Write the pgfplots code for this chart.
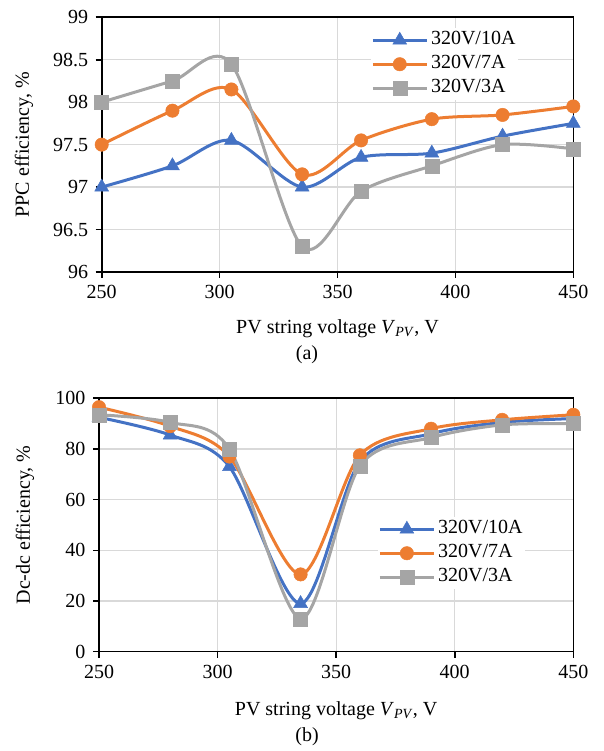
\documentclass[border=0pt]{standalone}
\usepackage{fontspec}
\setmainfont{Liberation Serif}
\usepackage{pgfplots}
\pgfplotsset{compat=1.18}
\definecolor{cblue}{HTML}{4472C4}
\definecolor{corange}{HTML}{ED7D31}
\definecolor{cgray}{HTML}{A5A5A5}
\definecolor{cgrid}{HTML}{D9D9D9}
\newcommand{\ff}{\fontsize{20}{24}\selectfont}
\pgfplotsset{
  common/.style={
    scale only axis,
    anchor=south west,
    axis line style={black, line width=1.6pt},
    grid=major,
    grid style={cgrid, line width=1.3pt},
    tick align=outside,
    xtick pos=bottom, ytick pos=left,
    major tick length=6pt,
    tick style={black, line width=1.6pt},
    /pgf/number format/assume math mode=true,
    tick label style={font=\ff},
    xmin=250, xmax=450, xtick={250,300,...,450},
    xticklabel style={anchor=north, yshift=-4pt},
    yticklabel style={anchor=east, xshift=-4pt},
    clip=false,
    legend cell align=left,
    legend style={draw=none, fill=white, font=\ff, inner sep=0pt, outer sep=0pt,
      nodes={inner sep=2.75pt, text height=14pt, text depth=4.5pt}},
    legend image code/.code={\draw[mark repeat=2, mark phase=2] plot coordinates {(0pt,0pt) (27pt,0pt) (54pt,0pt)};},
    xlabel={PV string voltage \textit{V}\textsubscript{\textit{PV}}, V},
  },
  sblue/.style={cblue, line width=3pt, smooth, mark=triangle*, mark size=8pt, mark options={solid, fill=cblue, draw=cblue, line width=0.5pt}},
  sorange/.style={corange, line width=3pt, smooth, mark=*, mark size=6.7pt, mark options={solid, fill=corange, draw=corange, line width=0.5pt}},
  sgray/.style={cgray, line width=3pt, smooth, mark=square*, mark size=7pt, mark options={solid, fill=cgray, draw=cgray, line width=0.5pt}},
}
\begin{document}
\begin{tikzpicture}
\useasboundingbox (0,0) rectangle (603pt,751pt);
\begin{axis}[common,
  at={(101.7pt,479pt)}, width=471.6pt, height=254.7pt,
  ymin=96, ymax=99, ytick={96,96.5,...,99},
  ylabel={PPC efficiency, \%},
  every axis y label/.style={at={(axis description cs:-0.1648,0.5)}, rotate=90, anchor=center, font=\ff},
  every axis x label/.style={at={(axis description cs:0.5,-0.2238)}, anchor=center, font=\ff},
  legend style={at={(axis description cs:0.5716,0.957)}, anchor=north west},
]
\addplot[sblue] coordinates {(250,97.0)(280,97.25)(305,97.55)(335,97.0)(360,97.35)(390,97.4)(420,97.6)(450,97.75)};
\addlegendentry{320V/10A}
\addplot[sorange] coordinates {(250,97.5)(280,97.9)(305,98.15)(335,97.15)(360,97.55)(390,97.8)(420,97.85)(450,97.95)};
\addlegendentry{320V/7A}
\addplot[sgray] coordinates {(250,98.0)(280,98.25)(305,98.45)(335,96.3)(360,96.95)(390,97.25)(420,97.5)(450,97.45)};
\addlegendentry{320V/3A}
\end{axis}
\node[font=\ff] at (307pt,396pt) {(a)};
\begin{axis}[common,
  at={(99pt,99.3pt)}, width=474.3pt, height=253.4pt,
  ymin=0, ymax=100, ytick={0,20,...,100},
  ylabel={Dc-dc efficiency, \%},
  every axis y label/.style={at={(axis description cs:-0.156,0.5)}, rotate=90, anchor=center, font=\ff},
  every axis x label/.style={at={(axis description cs:0.5,-0.233)}, anchor=center, font=\ff},
  legend style={at={(axis description cs:0.589,0.5306)}, anchor=north west},
]
\addplot[sblue] coordinates {(250,92.5)(280,85.5)(305,73)(335,19)(360,75)(390,86)(420,90.5)(450,92)};
\addlegendentry{320V/10A}
\addplot[sorange] coordinates {(250,96.5)(280,89)(305,77)(335,30.5)(360,77.5)(390,88)(420,91.5)(450,93.5)};
\addlegendentry{320V/7A}
\addplot[sgray] coordinates {(250,93.5)(280,90.5)(305,80)(335,13)(360,73.3)(390,84.5)(420,89.5)(450,90)};
\addlegendentry{320V/3A}
\end{axis}
\node[font=\ff] at (307pt,14pt) {(b)};
\end{tikzpicture}
\end{document}
